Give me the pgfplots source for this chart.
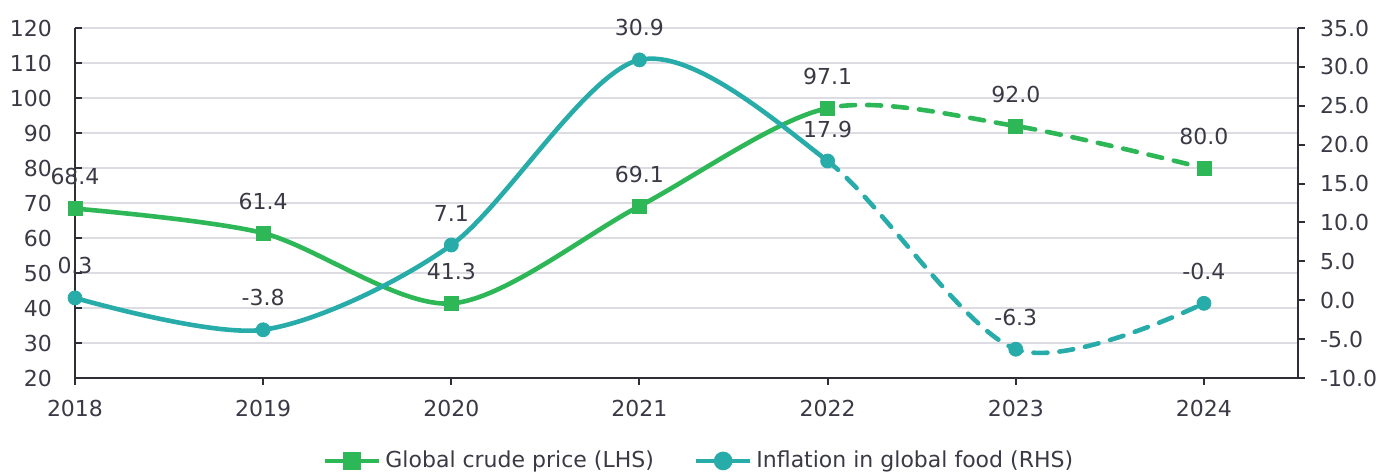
\documentclass[border=0pt]{standalone}
\usepackage{pgfplots}
\pgfplotsset{compat=1.18}
\usepackage{fontspec}
\setmainfont{DejaVu Sans}
\definecolor{eygreen}{HTML}{2DB757}
\definecolor{eyteal}{HTML}{27ACAA}
\definecolor{axc}{HTML}{2E2E38}
\definecolor{txt}{HTML}{3A3A46}
\definecolor{gridc}{HTML}{DCDCE2}
\pgfplotstableread{
x crude food
0 68.4 0.3
1 61.4 -3.8
2 41.3 7.1
3 69.1 30.9
4 97.1 17.9
5 92.0 -6.3
6 80.0 -0.4
}\data
\newcommand{\lblfont}{\fontsize{11}{13}\selectfont}
\begin{document}
\begin{tikzpicture}
\useasboundingbox (-37.5pt,-47.5pt) rectangle (653pt,189pt);
\begin{axis}[
  at={(0,0)}, anchor=south west,
  scale only axis, width=611.5pt, height=175pt,
  xmin=0, xmax=6.5, ymin=20, ymax=120,
  axis y line*=left, axis x line=none,
  axis line style={-, draw=axc, line width=1pt},
  ytick={20,30,...,120},
  tick align=inside, major tick length=3.5pt,
  tick style={axc, line width=1pt},
  ymajorgrids, grid style={gridc, line width=0.8pt},
  yticklabel style={font=\lblfont, text=txt, xshift=-8pt},
  /pgf/number format/assume math mode=true,
  clip=false,
  legend columns=2,
  legend style={at={(0.511,-0.237)}, anchor=center, draw=none, fill=none,
    font=\lblfont, text=txt, /tikz/every even column/.append style={column sep=18pt},
    inner sep=0pt},
  legend image code/.code={\draw[#1] (0pt,0pt) -- (27pt,0pt); \draw[#1] plot[only marks] coordinates {(13.5pt,0pt)};},
]
\begin{scope}
\clip (axis cs:-0.2,0) rectangle (axis cs:4,130);
\addplot[eygreen, line width=2.3pt, smooth, no marks, forget plot] table[x=x,y=crude]{\data};
\end{scope}
\begin{scope}
\clip (axis cs:4,0) rectangle (axis cs:7,130);
\addplot[eygreen, line width=2.3pt, smooth, no marks, dash pattern=on 7pt off 6pt, line cap=round, forget plot] table[x=x,y=crude]{\data};
\end{scope}
\addplot[only marks, mark=square*, mark size=3.5pt, color=eygreen, forget plot,
  nodes near coords={\pgfmathprintnumber[fixed,fixed zerofill,precision=1]{\pgfplotspointmeta}},
  every node near coord/.append style={font=\lblfont, text=txt, anchor=center, yshift=16pt}]
  table[x=x,y=crude]{\data};
\addlegendimage{eygreen, line width=2.3pt, mark=square*, mark size=3.5pt}
\addlegendentry{Global crude price (LHS)}
\addlegendimage{eyteal, line width=2.3pt, mark=*, mark size=3.5pt}
\addlegendentry{Inflation in global food (RHS)}
\end{axis}
\begin{axis}[
  at={(0,0)}, anchor=south west,
  scale only axis, width=611.5pt, height=175pt,
  xmin=0, xmax=6.5, ymin=-10, ymax=35,
  axis y line*=right, axis x line*=bottom,
  axis line style={-, draw=axc, line width=1pt},
  ytick={-10,-5,...,35},
  xtick={0,1,2,3,4,5,6},
  xticklabels={2018,2019,2020,2021,2022,2023,2024},
  tick align=outside, major tick length=3.5pt,
  tick style={axc, line width=1pt},
  yticklabel style={font=\lblfont, text=txt, xshift=4pt,
    /pgf/number format/.cd, fixed, fixed zerofill, precision=1},
  xticklabel style={font=\lblfont, text=txt, yshift=-4pt},
  /pgf/number format/assume math mode=true,
  clip=false,
]
\begin{scope}
\clip (axis cs:-0.2,-20) rectangle (axis cs:4,45);
\addplot[eyteal, line width=2.3pt, smooth, no marks] table[x=x,y=food]{\data};
\end{scope}
\begin{scope}
\clip (axis cs:4,-20) rectangle (axis cs:7,45);
\addplot[eyteal, line width=2.3pt, smooth, no marks, dash pattern=on 7pt off 6pt, line cap=round] table[x=x,y=food]{\data};
\end{scope}
\addplot[only marks, mark=*, mark size=3.5pt, color=eyteal,
  nodes near coords={\pgfmathprintnumber[fixed,fixed zerofill,precision=1]{\pgfplotspointmeta}},
  every node near coord/.append style={font=\lblfont, text=txt, anchor=center, yshift=16pt}]
  table[x=x,y=food]{\data};
\end{axis}
\end{tikzpicture}
\end{document}
